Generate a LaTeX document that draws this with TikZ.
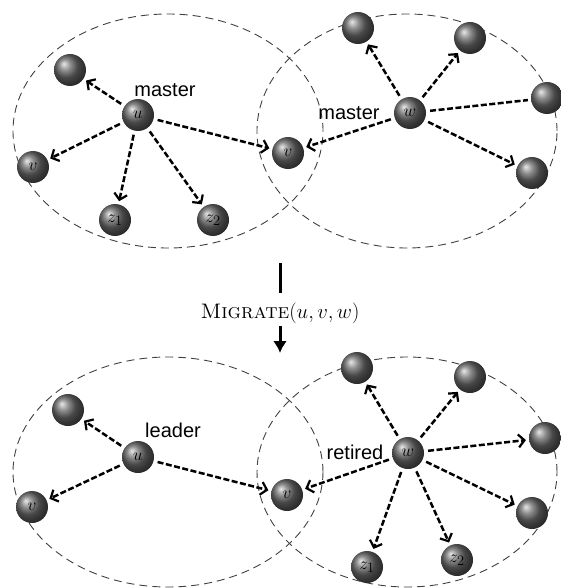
\documentclass[tikz,border=0pt]{standalone}
\usepackage{fontspec}
\usetikzlibrary{positioning,arrows.meta,shadings}
\newfontfamily\labelfont{Liberation Sans}

\begin{document}
\begin{tikzpicture}[x=1pt, y=-1pt,
  ring/.style={draw=black!75, line width=0.9pt, dash pattern=on 8pt off 5pt},
  ball/.style={circle, minimum size=32pt, inner sep=0pt, shading=ball, ball color=black!60, font=\fontsize{19}{19}\selectfont},
  link/.style={line width=2.5pt, dash pattern=on 6pt off 2.5pt, shorten <=4pt, shorten >=3pt},
  arr/.style={link, -{Straight Barb[length=6pt,width=13pt,line width=2.2pt]}},
  role/.style={font=\labelfont\fontsize{20}{20}\selectfont, inner sep=0pt}]
\useasboundingbox (0,0) rectangle (561,588);

% before migration
\draw[ring] (168,131) ellipse [x radius=155pt, y radius=117pt];
\draw[ring] (407,131) ellipse [x radius=150pt, y radius=117pt];

\node[ball] (ua) at (138,115) {$u$};
\node[ball] (pa) at (70,70) {};
\node[ball] (vla) at (33,167) {$v$};
\node[ball] (z1a) at (115,220) {$z_1$};
\node[ball] (z2a) at (213,220) {$z_2$};
\node[ball] (va) at (288,153) {$v$};
\node[ball] (wa) at (410,113) {$w$};
\node[ball] (q1a) at (358,28) {};
\node[ball] (q2a) at (470,38) {};
\node[ball] (q3a) at (547,98) {};
\node[ball] (q4a) at (532,173) {};
\node[role] (ma) at (165,90) {master};
\node[role] (mb) at (349,113) {master};

\draw[arr] (ua) -- (pa);
\draw[arr] (ua) -- (vla);
\draw[arr] (ua) -- (z1a);
\draw[arr] (ua) -- (z2a);
\draw[arr] (ua) -- (va);
\draw[arr] (wa) -- (va);
\draw[arr] (wa) -- (q1a);
\draw[arr] (wa) -- (q2a);
\draw[link] (wa) -- (q3a);
\draw[arr] (wa) -- (q4a);

% the step
\node[font=\fontsize{21}{21}\selectfont, inner sep=0pt] (mig) at (280,313) {\textsc{Migrate}$(u,v,w)$};
\coordinate (m0) at (280,263);
\coordinate (m1) at (280,293);
\coordinate (m2) at (280,326);
\coordinate (m3) at (280,353);
\draw[line width=3pt] (m0) -- (m1);
\draw[line width=3pt, -{Latex[length=12pt,width=14pt]}] (m2) -- (m3);

% after migration
\draw[ring] (168,472) ellipse [x radius=155pt, y radius=115pt];
\draw[ring] (407,472) ellipse [x radius=150pt, y radius=115pt];

\node[ball] (ub) at (138,457) {$u$};
\node[ball] (pb) at (68,410) {};
\node[ball] (vlb) at (32,507) {$v$};
\node[ball] (vb) at (287,495) {$v$};
\node[ball] (wb) at (408,453) {$w$};
\node[ball] (q1b) at (357,368) {};
\node[ball] (q2b) at (470,377) {};
\node[ball] (q3b) at (545,438) {};
\node[ball] (q4b) at (532,513) {};
\node[ball] (z1b) at (367,567) {$z_1$};
\node[ball] (z2b) at (457,560) {$z_2$};
\node[role] (lb) at (173,430) {leader};
\node[role] (rb) at (355,452) {retired};

\draw[arr] (ub) -- (pb);
\draw[arr] (ub) -- (vlb);
\draw[arr] (ub) -- (vb);
\draw[arr] (wb) -- (vb);
\draw[arr] (wb) -- (q1b);
\draw[arr] (wb) -- (q2b);
\draw[arr] (wb) -- (q3b);
\draw[arr] (wb) -- (q4b);
\draw[arr] (wb) -- (z1b);
\draw[arr] (wb) -- (z2b);
\end{tikzpicture}
\end{document}
